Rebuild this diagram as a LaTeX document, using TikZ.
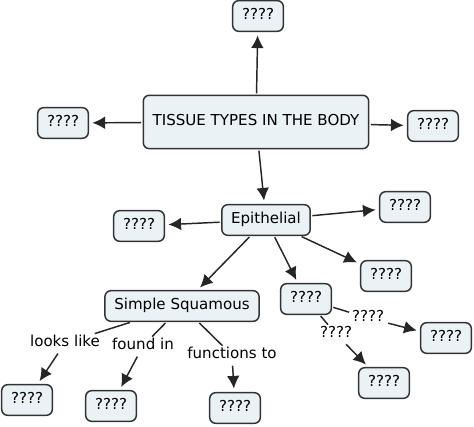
\documentclass[tikz,border=0pt]{standalone}
\usepackage{fontspec}
\setmainfont{DejaVu Sans}
\usetikzlibrary{arrows.meta}
\definecolor{boxfill}{HTML}{EBF2F5}
\definecolor{boxline}{HTML}{333333}

\begin{document}
\begin{tikzpicture}[x=0.75pt, y=-0.75pt, font=\fontsize{11.3}{13.5}\selectfont]
      \useasboundingbox (0,0) rectangle (474,427);
      \tikzstyle{Concept} = [draw=boxline, fill=boxfill, line width=1.1pt, rounded corners=4.5pt,
                             inner xsep=7pt, minimum height=23pt, text height=0.75em, text depth=0.22em]
      \tikzstyle{Link} = [inner sep=2pt, text height=0.75em, text depth=0.22em]
      \tikzstyle{Line} = [draw=black!85, line width=1.1pt, shorten <=1pt]
      \tikzstyle{Arrow} = [Line, -{Latex[length=9.5pt, width=9.5pt]}, shorten >=2.5pt]
      % concepts
      \node[Concept, minimum height=40pt] (body) at (256,122) {TISSUE TYPES IN THE BODY};
      \node[Concept] (up)    at (258,16)  {????};
      \node[Concept] (west)  at (63,123)  {????};
      \node[Concept] (east)  at (433,126) {????};
      \node[Concept] (epi)   at (266,220) {Epithelial};
      \node[Concept] (epiNE) at (405,207) {????};
      \node[Concept] (epiW)  at (139,226) {????};
      \node[Concept] (epiSE) at (386,276) {????};
      \node[Concept] (simple) at (182,306) {Simple Squamous};
      \node[Concept] (epiS)  at (306,299) {????};
      \node[Concept] (farE)  at (446,338) {????};
      \node[Concept] (farS)  at (384,383) {????};
      \node[Concept] (looks) at (27,400)  {????};
      \node[Concept] (found) at (111,406) {????};
      \node[Concept] (funct) at (235,408) {????};
      % linking phrases
      \node[Link] (lLooks) at (65,343)  {looks like};
      \node[Link] (lFound) at (143,346) {found in};
      \node[Link] (lFunct) at (232,355) {functions to};
      \node[Link] (lEast)  at (368,318) {????};
      \node[Link] (lSouth) at (336,334) {????};
      % connections
      \draw[Arrow] (body) -- (up);
      \draw[Arrow] (body) -- (west);
      \draw[Arrow] (body) -- (east);
      \draw[Arrow] (body) -- (epi);
      \draw[Arrow] (epi) -- (epiW);
      \draw[Arrow] (epi) -- (epiNE);
      \draw[Arrow] (epi) -- (epiSE);
      \draw[Arrow] (epi) -- (epiS);
      \draw[Arrow] (epi) -- (simple);
      \draw[Line] (simple) -- (lLooks);
      \draw[Arrow] (lLooks) -- (looks);
      \draw[Line] (simple) -- (lFound);
      \draw[Arrow] (lFound) -- (found);
      \draw[Line] (simple) -- (lFunct);
      \draw[Arrow] (lFunct) -- (funct);
      \draw[Line] (epiS) -- (lEast);
      \draw[Arrow] (lEast) -- (farE);
      \draw[Line] (epiS) -- (lSouth);
      \draw[Arrow] (lSouth) -- (farS);
\end{tikzpicture}
\end{document}
